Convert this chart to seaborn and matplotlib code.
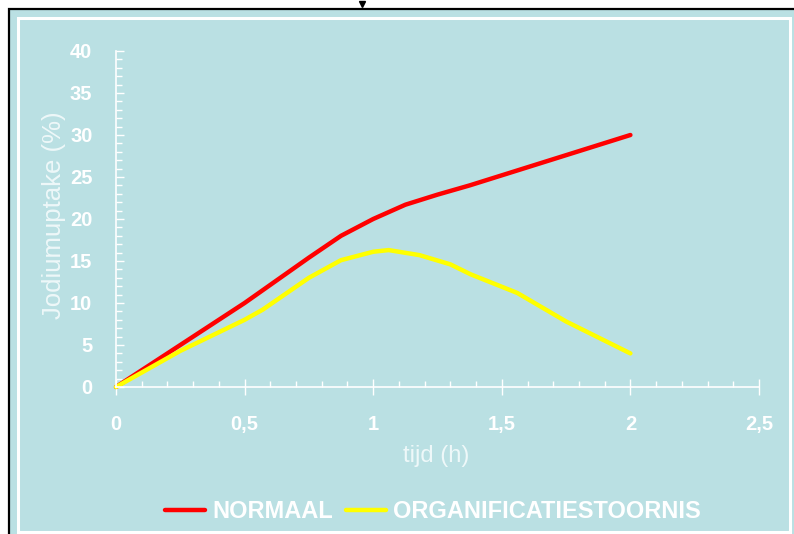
import pandas as pd
import matplotlib
matplotlib.use("Agg")
import matplotlib.pyplot as plt
from matplotlib.patches import Rectangle
from matplotlib.lines import Line2D
from matplotlib.ticker import MultipleLocator, FixedLocator
import seaborn as sns

# data
normaal_t = [0, 0.25, 0.5, 0.75, 0.875, 1.0, 1.125, 1.25, 1.375, 1.5, 1.75, 2.0]
normaal_y = [0, 5.0, 10.0, 15.4, 18.0, 20.0, 21.7, 22.9, 24.0, 25.2, 27.6, 30.0]

stoornis_t = [0, 0.25, 0.5, 0.57, 0.75, 0.875, 1.0, 1.06, 1.18, 1.3, 1.38, 1.56, 1.75, 2.0]
stoornis_y = [0, 4.3, 8.0, 9.2, 13.0, 15.1, 16.1, 16.3, 15.7, 14.6, 13.4, 11.2, 7.8, 4.0]

series_names = ["NORMAAL", "ORGANIFICATIESTOORNIS"]
x_ticks = [0, 0.5, 1, 1.5, 2, 2.5]
x_tick_labels = ["0", "0,5", "1", "1,5", "2", "2,5"]
y_ticks = [0, 5, 10, 15, 20, 25, 30, 35, 40]

df = pd.concat([
    pd.DataFrame({"tijd": normaal_t, "uptake": normaal_y, "reeks": series_names[0]}),
    pd.DataFrame({"tijd": stoornis_t, "uptake": stoornis_y, "reeks": series_names[1]}),
])

sns.set_style("white")
plt.rcParams["font.family"] = ["Liberation Sans", "DejaVu Sans"]

W, H = 794, 534
bg = "#bae0e3"
fig = plt.figure(figsize=(W / 100, H / 100), dpi=100, facecolor="white")

# outer frame: black border, blue fill, inner white line
fig.add_artist(Rectangle((9 / W, -0.1), 1.2, (H - 9) / H + 0.1, transform=fig.transFigure,
                         facecolor=bg, edgecolor="black", linewidth=1.6, zorder=0))
fig.add_artist(Rectangle((18 / W, 2 / H), (790 - 18) / W, (H - 17.5 - 2) / H, transform=fig.transFigure,
                         facecolor="none", edgecolor="white", linewidth=2.2, zorder=1))
fig.add_artist(Line2D([362 / W], [1 - 4 / H], marker="v", markersize=4, color="black",
                      transform=fig.transFigure))

ax = fig.add_axes([116 / W, 1 - 387 / H, (759 - 116) / W, (387 - 51) / H])
ax.set_facecolor("none")

sns.lineplot(data=df, x="tijd", y="uptake", hue="reeks", palette=["#ff0000", "#ffff00"],
             linewidth=3.2, ax=ax, legend=False, clip_on=False)

ax.set_xlim(0, 2.5)
ax.set_ylim(0, 40)
ax.xaxis.set_major_locator(FixedLocator(x_ticks))
ax.set_xticklabels(x_tick_labels)
ax.yaxis.set_major_locator(FixedLocator(y_ticks))
ax.xaxis.set_minor_locator(MultipleLocator(0.1))
ax.yaxis.set_minor_locator(MultipleLocator(1))

for s in ["top", "right"]:
    ax.spines[s].set_visible(False)
for s in ["left", "bottom"]:
    ax.spines[s].set_color("white")
    ax.spines[s].set_linewidth(1.2)

ax.tick_params(axis="x", which="major", direction="inout", length=12, width=1, color="white",
               labelsize=14.5, labelcolor="white", pad=14, bottom=True)
ax.tick_params(axis="x", which="minor", direction="in", length=4, width=1, color="white", bottom=True)
ax.tick_params(axis="y", which="major", direction="in", length=6, width=1, color="white",
               labelsize=14.5, labelcolor="white", pad=17, left=True)
ax.tick_params(axis="y", which="minor", direction="in", length=4, width=1, color="white", left=True)
for lab in ax.get_xticklabels() + ax.get_yticklabels():
    lab.set_fontweight("bold")

ax.set_xlabel("tijd (h)", fontsize=17, color="#eef8f9")
ax.set_ylabel("Jodiumuptake (%)", fontsize=18.5, color="#eef8f9")
ax.xaxis.set_label_coords((436 - 116) / 643, -(445 - 387) / 336)
ax.yaxis.set_label_coords(-(116 - 66) / 643, (387 - 215) / 336)

handles = [Line2D([], [], color="#ff0000", linewidth=3.2),
           Line2D([], [], color="#ffff00", linewidth=3.2)]
fig.legend(handles, series_names, loc="center", bbox_to_anchor=(433 / W, 1 - 512 / H), ncol=2,
           frameon=False, handlelength=1.7, handletextpad=0.3, columnspacing=0.55,
           prop={"size": 17, "weight": "bold"}, labelcolor="white")

fig.savefig("out.png", dpi=100, facecolor="white")
